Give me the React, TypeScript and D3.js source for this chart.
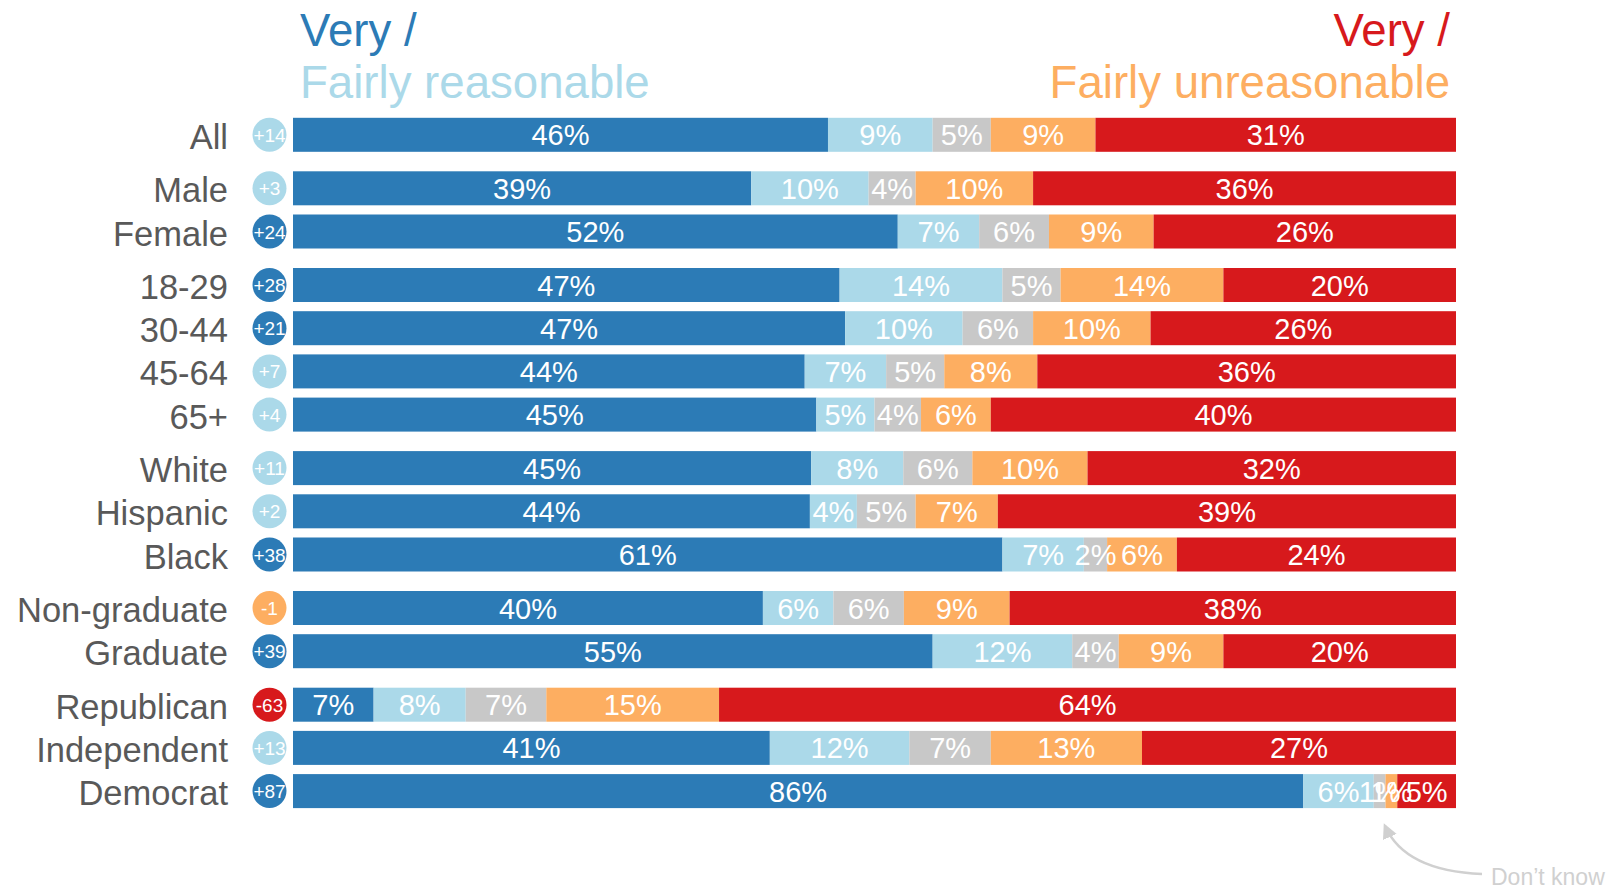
import React, { useRef, useEffect } from 'react';
import * as d3 from 'd3';

// Survey rows
const categories = [
  'All', 'Male', 'Female', '18-29', '30-44', '45-64', '65+',
  'White', 'Hispanic', 'Black', 'Non-graduate', 'Graduate',
  'Republican', 'Independent', 'Democrat',
];
const groupIndex = [0, 1, 1, 2, 2, 2, 2, 3, 3, 3, 4, 4, 5, 5, 5];

// Answer shares (%)
const veryReasonable = [46, 39, 52, 47, 47, 44, 45, 45, 44, 61, 40, 55, 7, 41, 86];
const fairlyReasonable = [9, 10, 7, 14, 10, 7, 5, 8, 4, 7, 6, 12, 8, 12, 6];
const dontKnow = [5, 4, 6, 5, 6, 5, 4, 6, 5, 2, 6, 4, 7, 7, 1];
const fairlyUnreasonable = [9, 10, 9, 14, 10, 8, 6, 10, 7, 6, 9, 9, 15, 13, 1];
const veryUnreasonable = [31, 36, 26, 20, 26, 36, 40, 32, 39, 24, 38, 20, 64, 27, 5];

// Net reasonable score
const netScores = [14, 3, 24, 28, 21, 7, 4, 11, 2, 38, -1, 39, -63, 13, 87];

const seriesColors = ['#2c7bb6', '#abd9e9', '#c8c8c8', '#fdae61', '#d7191c'];

const App = () => {
  const ref = useRef<SVGSVGElement>(null);

  useEffect(() => {
    const font = '"Liberation Sans", Arial, sans-serif';

    const svg = d3.select(ref.current);
    svg.selectAll('*').remove();

    const series = [veryReasonable, fairlyReasonable, dontKnow, fairlyUnreasonable, veryUnreasonable];
    const rows = categories.map((name, i) => {
      const vals = series.map((s) => s[i]);
      const total = d3.sum(vals);
      let acc = 0;
      const segs = vals.map((v, k) => {
        const start = acc;
        acc += v;
        return { v, k, start: start / total, end: acc / total };
      });
      return { name, i, g: groupIndex[i], segs, net: netScores[i] };
    });

    const x = d3.scaleLinear().domain([0, 1]).range([293, 1456]);
    const groupGap = 10.3 / 43.2;
    const y = d3.scaleLinear().domain([0, 1]).range([134.8, 178]);
    const rowY = (r: any) => y(r.i + r.g * groupGap);
    const barH = 34;

    const netColor = d3
      .scaleThreshold<number, string>()
      .domain([-20, 0, 20])
      .range(['#d7191c', '#fdae61', '#abd9e9', '#2c7bb6']);

    // Headers
    const hdr = svg.append('g').attr('font-family', font).attr('font-size', 45.6);
    hdr.append('text').attr('x', 300).attr('y', 46).attr('fill', seriesColors[0]).text('Very /');
    hdr.append('text').attr('x', 300).attr('y', 98).attr('fill', seriesColors[1]).text('Fairly reasonable');
    hdr.append('text').attr('x', 1450).attr('y', 46).attr('text-anchor', 'end').attr('fill', seriesColors[4]).text('Very /');
    hdr.append('text').attr('x', 1450).attr('y', 98).attr('text-anchor', 'end').attr('fill', seriesColors[3]).text('Fairly unreasonable');

    const row = svg
      .selectAll('.row')
      .data(rows)
      .enter()
      .append('g')
      .attr('class', 'row')
      .attr('transform', (d) => `translate(0,${rowY(d)})`);

    // Category labels
    row
      .append('text')
      .attr('x', 228)
      .attr('y', 14)
      .attr('text-anchor', 'end')
      .attr('font-family', font)
      .attr('font-size', 34.5)
      .attr('fill', '#595959')
      .text((d) => d.name);

    // Net circles
    row
      .append('circle')
      .attr('cx', 269.5)
      .attr('cy', 0)
      .attr('r', 17)
      .attr('fill', (d) => netColor(d.net));
    row
      .append('text')
      .attr('x', 269.5)
      .attr('y', 7)
      .attr('text-anchor', 'middle')
      .attr('font-family', font)
      .attr('font-size', 19)
      .attr('fill', '#fff')
      .text((d) => (d.net > 0 ? `+${d.net}` : `${d.net}`));

    // Segments
    row
      .selectAll('rect')
      .data((d) => d.segs)
      .enter()
      .append('rect')
      .attr('x', (s) => x(s.start))
      .attr('y', -barH / 2)
      .attr('width', (s) => x(s.end) - x(s.start))
      .attr('height', barH)
      .attr('fill', (s) => seriesColors[s.k]);

    row
      .selectAll('.val')
      .data((d) => d.segs)
      .enter()
      .append('text')
      .attr('class', 'val')
      .attr('x', (s) => (x(s.start) + x(s.end)) / 2)
      .attr('y', 10.5)
      .attr('text-anchor', 'middle')
      .attr('font-family', font)
      .attr('font-size', 29)
      .attr('fill', '#fff')
      .text((s) => `${s.v}%`);

    // "Don't know" annotation
    const defs = svg.append('defs');
    defs
      .append('marker')
      .attr('id', 'arrow')
      .attr('viewBox', '0 0 10 10')
      .attr('refX', 8)
      .attr('refY', 5)
      .attr('markerWidth', 6)
      .attr('markerHeight', 6)
      .attr('orient', 'auto')
      .append('path')
      .attr('d', 'M0,0L10,5L0,10Z')
      .attr('fill', '#d0d0d0');

    svg
      .append('path')
      .attr('d', 'M1482,874 Q1405,871 1385,826')
      .attr('fill', 'none')
      .attr('stroke', '#d0d0d0')
      .attr('stroke-width', 2.5)
      .attr('marker-end', 'url(#arrow)');

    svg
      .append('text')
      .attr('x', 1491)
      .attr('y', 885)
      .attr('font-family', font)
      .attr('font-size', 23)
      .attr('fill', '#d0d0d0')
      .text('Don\u2019t know');
  }, []);

  return (
    <svg
      ref={ref}
      width={1613}
      height={890}
      style={{ position: 'absolute', left: 0, top: 0, background: '#fff' }}
    />
  );
};

export default App;
